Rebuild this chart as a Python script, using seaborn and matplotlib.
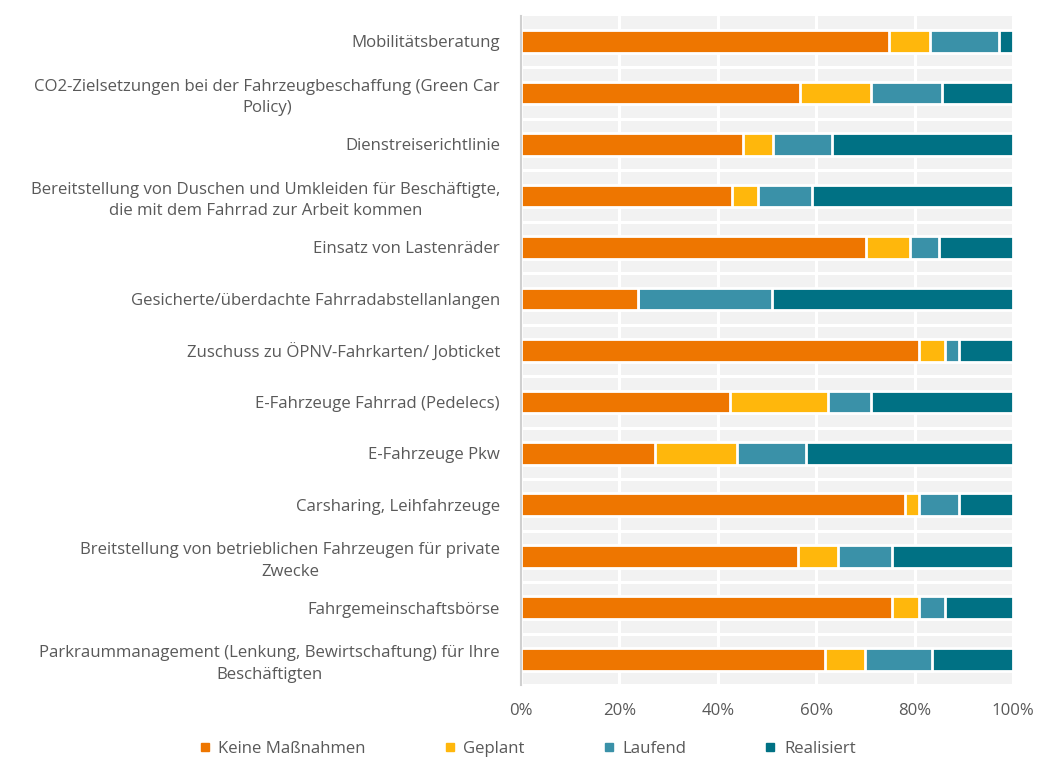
import pandas as pd
import numpy as np
import matplotlib.pyplot as plt
import seaborn as sns
from matplotlib.lines import Line2D

# ==================================================
# DATA (Anteile in %)
# ==================================================
categories = [
    'Mobilitätsberatung',
    'CO2-Zielsetzungen bei der Fahrzeugbeschaffung (Green Car\nPolicy)',
    'Dienstreiserichtlinie',
    'Bereitstellung von Duschen und Umkleiden für Beschäftigte,\ndie mit dem Fahrrad zur Arbeit kommen',
    'Einsatz von Lastenräder',
    'Gesicherte/überdachte Fahrradabstellanlangen',
    'Zuschuss zu ÖPNV-Fahrkarten/ Jobticket',
    'E-Fahrzeuge Fahrrad (Pedelecs)',
    'E-Fahrzeuge Pkw',
    'Carsharing, Leihfahrzeuge',
    'Breitstellung von betrieblichen Fahrzeugen für private\nZwecke',
    'Fahrgemeinschaftsbörse',
    'Parkraummanagement (Lenkung, Bewirtschaftung) für Ihre\nBeschäftigten',
]
keine = [74.8, 56.8, 45.1, 42.8, 70.2, 23.7, 80.8, 42.4, 27.2, 78.1, 56.4, 75.4, 61.7]
geplant = [8.3, 14.3, 6.1, 5.4, 8.9, 0.0, 5.4, 20.1, 16.8, 2.7, 8.1, 5.4, 8.2]
laufend = [14.0, 14.4, 12.1, 10.9, 5.9, 27.3, 2.8, 8.6, 14.0, 8.2, 10.9, 5.4, 13.6]
realisiert = [2.9, 14.5, 36.7, 40.9, 15.0, 49.0, 11.0, 28.9, 42.0, 11.0, 24.6, 13.8, 16.5]

series_names = ['Keine Maßnahmen', 'Geplant', 'Laufend', 'Realisiert']
colors = ['#EE7600', '#FFB70C', '#3A91A8', '#007184']

df = pd.DataFrame({'Kategorie': categories, 'Keine Maßnahmen': keine,
                   'Geplant': geplant, 'Laufend': laufend, 'Realisiert': realisiert})
cum = df[series_names].cumsum(axis=1)

# ==================================================
# PLOT
# ==================================================
sns.set_style('white')
plt.rcParams['font.family'] = ['Open Sans', 'DejaVu Sans']
text_col = '#595959'
fs = 12.1

fig = plt.figure(figsize=(10.39, 7.6), dpi=100)
ax = fig.add_axes([0.5014, 0.0987, 0.4736, 0.8806])

# gestapelt: von hinten (Summe) nach vorne
for name, col in reversed(list(zip(series_names, colors))):
    sns.barplot(x=cum[name], y=df['Kategorie'], color=col, orient='h',
                width=0.44, edgecolor='white', linewidth=2, errorbar=None,
                saturation=1, ax=ax, zorder=3)

ax.set_facecolor('#F2F2F2')
ax.set_xlim(0, 100)
ax.set_ylim(len(categories) - 0.5, -0.5)
ax.set_xticks(np.arange(0, 101, 20))
ax.set_xticklabels([f'{v}%' for v in range(0, 101, 20)])
ax.set_yticks(np.arange(len(categories)) + 0.5, minor=True)
ax.grid(axis='x', which='major', color='white', linewidth=2.2)
ax.grid(axis='y', which='minor', color='white', linewidth=2.2)
ax.set_axisbelow(True)

ax.set_xlabel('')
ax.set_ylabel('')
for s in ['top', 'right', 'bottom']:
    ax.spines[s].set_visible(False)
ax.spines['left'].set_color('#D0D0D0')
ax.spines['left'].set_linewidth(1.5)
ax.spines['left'].set_zorder(5)

ax.tick_params(axis='y', which='both', length=0, pad=15, labelsize=fs, labelcolor=text_col)
ax.tick_params(axis='x', length=0, pad=13, labelsize=fs, labelcolor=text_col)
for lbl in ax.get_yticklabels():
    lbl.set_multialignment('center')
    lbl.set_linespacing(1.45)

handles = [Line2D([0], [0], marker='s', linestyle='none', markersize=6,
                  markerfacecolor=c, markeredgecolor=c) for c in colors]
fig.legend(handles, series_names, loc='center', bbox_to_anchor=(0.508, 0.014),
           ncol=4, frameon=False, fontsize=fs, labelcolor=text_col,
           handlelength=0.6, handletextpad=0.5, columnspacing=4.7)

plt.savefig('out.png', dpi=100)
